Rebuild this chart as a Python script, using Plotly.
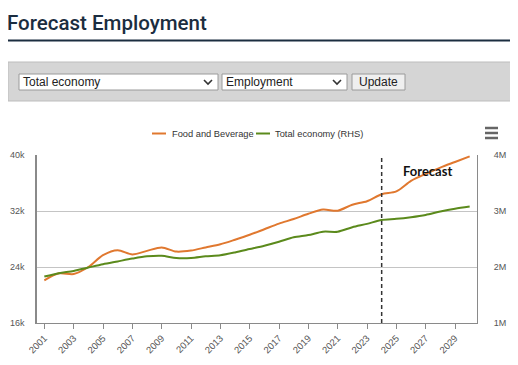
import plotly.graph_objects as go

# ---------------- data ----------------
years = list(range(2001, 2031))
food_bev = [22.1, 23.1, 23.0, 24.0, 25.7, 26.4, 25.8, 26.3, 26.8, 26.2,
            26.35, 26.8, 27.25, 27.9, 28.6, 29.4, 30.2, 30.85, 31.6, 32.2,
            32.05, 32.9, 33.4, 34.4, 34.8, 36.3, 37.3, 38.2, 39.0, 39.8]
food_bev = [v * 1000 for v in food_bev]
total_econ = [1.83, 1.89, 1.93, 1.99, 2.05, 2.10, 2.15, 2.19, 2.20, 2.16,
              2.16, 2.19, 2.21, 2.26, 2.32, 2.38, 2.45, 2.53, 2.57, 2.63,
              2.63, 2.71, 2.77, 2.84, 2.86, 2.89, 2.93, 2.99, 3.04, 3.08]
total_econ = [v * 1e6 for v in total_econ]
forecast_year = 2024
left_ticks = [16000, 24000, 32000, 40000]
left_labels = ["16k", "24k", "32k", "40k"]
right_ticks = [1e6, 2e6, 3e6, 4e6]
right_labels = ["1M", "2M", "3M", "4M"]
x_ticks = list(range(2001, 2031, 2))

ORANGE = "#e0782f"
GREEN = "#5b8a1c"
NAVY = "#1b2d40"

# page geometry (page pixels); the figure sits inside the default 8px body margin
OFF = 8
PAGE_W, PAGE_H = 518, 365
W, H = PAGE_W - OFF, PAGE_H - OFF
PL, PR, PT, PB = 37, 477, 155, 323          # plot area in page pixels
L, R, T, B = PL - OFF, PAGE_W - PR, PT - OFF, PAGE_H - PB
PW, PH = PR - PL, PB - PT


def px(x):
    return (x - PL) / PW


def py(y):
    return (PB - y) / PH


fig = go.Figure()
fig.add_trace(go.Scatter(x=years, y=food_bev, name="Food and Beverage", mode="lines",
                         line=dict(color=ORANGE, width=2, shape="spline", smoothing=0.8),
                         yaxis="y"))
fig.add_trace(go.Scatter(x=years, y=total_econ, name="Total economy (RHS)", mode="lines",
                         line=dict(color=GREEN, width=2, shape="spline", smoothing=0.8),
                         yaxis="y2"))

shapes = []
annotations = []

# forecast dashed line
shapes.append(dict(type="line", xref="x", yref="paper", x0=forecast_year, x1=forecast_year,
                   y0=0, y1=1, line=dict(color="#333333", width=1.5, dash="4px,3px")))
annotations.append(dict(text="<b>Forecast</b>", xref="paper", yref="paper", x=px(427.5), y=py(170.5),
                        showarrow=False, xanchor="center", yanchor="middle",
                        font=dict(family="Lato, Open Sans, sans-serif", size=13, color="#111111")))

# title + underline
annotations.append(dict(text="Forecast Employment", xref="paper", yref="paper",
                        x=px(5), y=py(23.5), xanchor="left", yanchor="middle", showarrow=False,
                        font=dict(family="Roboto, sans-serif", size=20.5, weight=500, color=NAVY)))
shapes.append(dict(type="line", xref="paper", yref="paper", x0=px(8), x1=px(512),
                   y0=py(40.5), y1=py(40.5), line=dict(color=NAVY, width=2)))

# grey control panel
shapes.append(dict(type="rect", xref="paper", yref="paper", x0=px(8), x1=px(512),
                   y0=py(62), y1=py(101), fillcolor="#d5d5d5", line=dict(color="#bdbdbd", width=1),
                   layer="below"))
controls = [("Total economy", 19, 218, True), ("Employment", 222, 347, True), ("Update", 352, 405, False)]
for label, x0, x1, is_select in controls:
    shapes.append(dict(type="rect", xref="paper", yref="paper", x0=px(x0), x1=px(x1),
                       y0=py(74), y1=py(90),
                       fillcolor="#ffffff" if is_select else "#efefef",
                       line=dict(color="#9a9a9a", width=1)))
    if is_select:
        annotations.append(dict(text=label, xref="paper", yref="paper", x=px(x0 + 2), y=py(82),
                                xanchor="left", yanchor="middle", showarrow=False,
                                font=dict(family="Liberation Sans, Arial, sans-serif", size=12, color="#222222")))
        cx = x1 - 10
        shapes.append(dict(type="path", xref="paper", yref="paper",
                           path=f"M {px(cx-4)},{py(80)} L {px(cx)},{py(84)} L {px(cx+4)},{py(80)}",
                           line=dict(color="#333333", width=1.6)))
    else:
        annotations.append(dict(text=label, xref="paper", yref="paper", x=px((x0 + x1) / 2), y=py(82),
                                xanchor="center", yanchor="middle", showarrow=False,
                                font=dict(family="Liberation Sans, Arial, sans-serif", size=12, color="#222222")))

# legend (manual, Highcharts-style)
legend_items = [("Food and Beverage", ORANGE, 152, 166, 170), ("Total economy (RHS)", GREEN, 256, 270, 273)]
for label, col, lx0, lx1, tx in legend_items:
    shapes.append(dict(type="line", xref="paper", yref="paper", x0=px(lx0), x1=px(lx1),
                       y0=py(133.5), y1=py(133.5), line=dict(color=col, width=2)))
    annotations.append(dict(text=label, xref="paper", yref="paper", x=px(tx), y=py(133.5),
                            xanchor="left", yanchor="middle", showarrow=False,
                            font=dict(family="Liberation Sans, Arial, sans-serif", size=9.3, color="#333333")))

# hamburger menu
for yy in (128, 133, 138):
    shapes.append(dict(type="line", xref="paper", yref="paper", x0=px(485), x1=px(498),
                       y0=py(yy), y1=py(yy), line=dict(color="#666666", width=2.5)))

tick_font = dict(family="Liberation Sans, Arial, sans-serif", size=9, color="#555555")

fig.update_layout(
    width=W, height=H,
    margin=dict(l=L, r=R, t=T, b=B, autoexpand=False),
    paper_bgcolor="white", plot_bgcolor="white",
    showlegend=False,
    shapes=shapes, annotations=annotations,
    xaxis=dict(range=[2000.5, 2030.5], tickvals=x_ticks, ticktext=[str(v) for v in x_ticks],
               tickangle=-45, ticks="outside", ticklen=5, tickcolor="#8a8a8a",
               showline=True, linecolor="#8a8a8a", linewidth=1, showgrid=False,
               zeroline=False, tickfont=dict(family="Liberation Sans, Arial, sans-serif", size=9.5,
                                             color="#555555"), automargin=False),
    yaxis=dict(range=[16000, 40000], tickvals=left_ticks, ticktext=left_labels,
               showline=True, linecolor="#8a8a8a", linewidth=1.5, showgrid=True,
               gridcolor="#c4c4c4", gridwidth=1, zeroline=False, tickfont=tick_font,
               ticklabelstandoff=9, automargin=False),
    yaxis2=dict(range=[1e6, 4e6], tickvals=right_ticks, ticktext=right_labels,
                overlaying="y", side="right", showline=True, linecolor="#8a8a8a",
                linewidth=1, showgrid=False, zeroline=False, tickfont=tick_font,
                ticklabelstandoff=14, automargin=False),
)

fig.write_html("out.html")
